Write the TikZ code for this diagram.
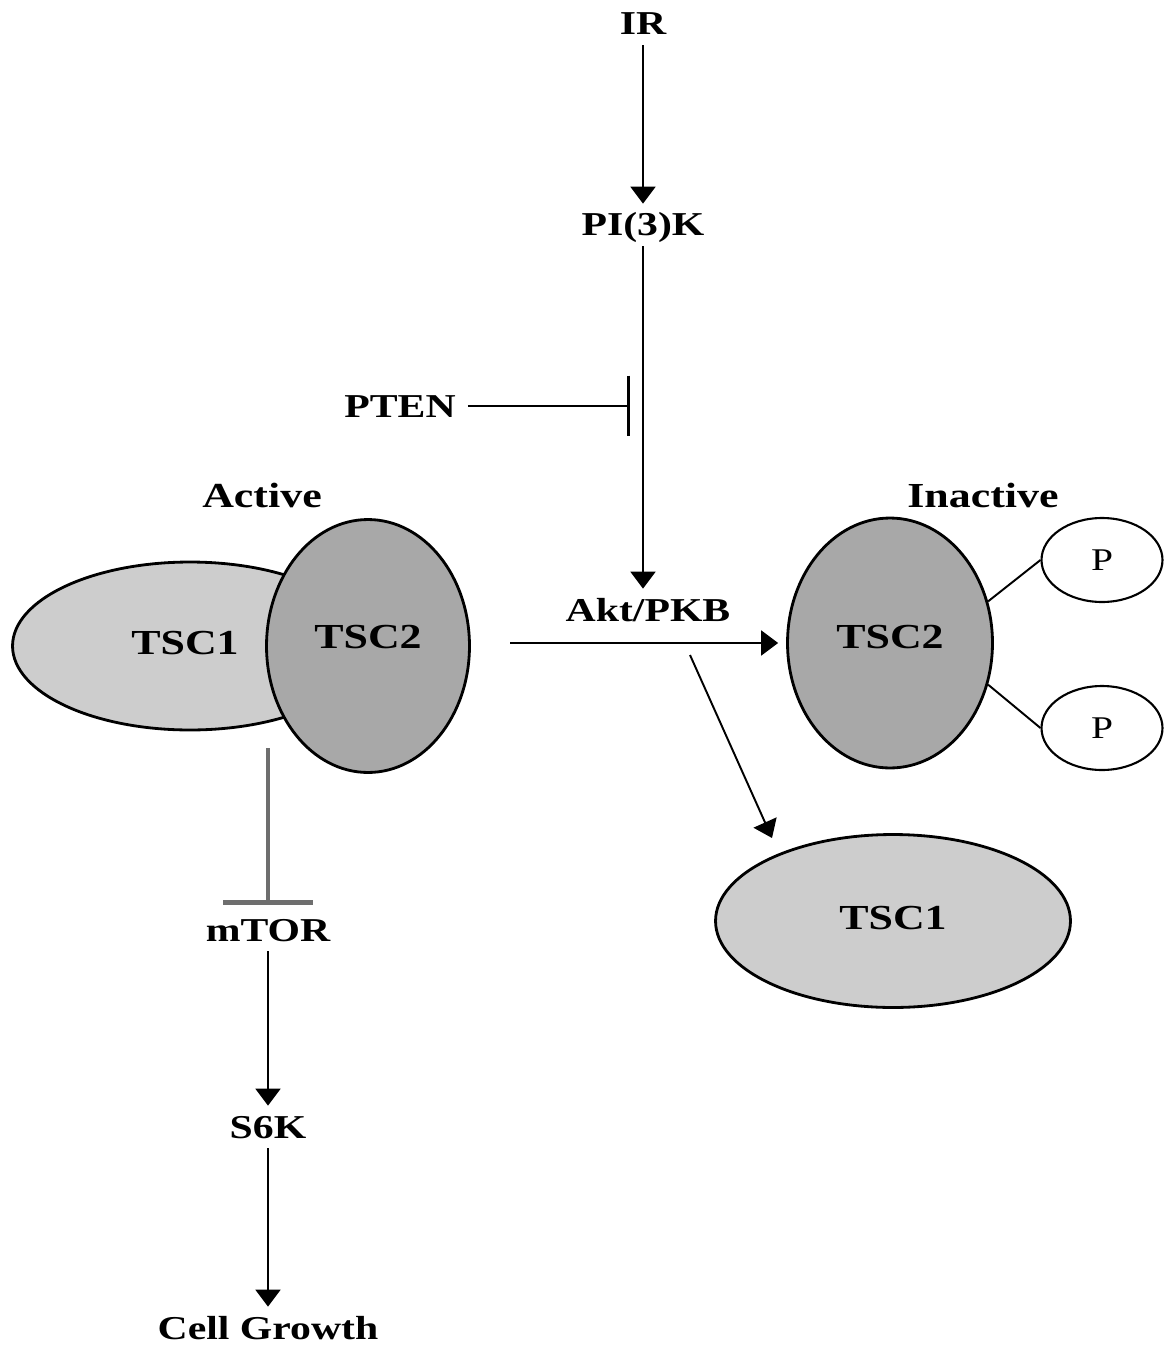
\documentclass[tikz,border=0pt]{standalone}
\usepackage{fontspec}
\setmainfont{Liberation Serif}
\usetikzlibrary{arrows.meta,shapes.geometric}
\newcommand{\wtxt}[1]{\scalebox{1.25}[1]{#1}}
\definecolor{tscone}{RGB}{205,205,205}
\definecolor{tsctwo}{RGB}{168,168,168}
\definecolor{inhgray}{RGB}{110,110,110}
\tikzset{
  lbl/.style={font=\fontsize{19}{22}\selectfont\bfseries, text height=0.44cm, text depth=0pt, inner ysep=0.2cm, inner xsep=0.24cm},
  biglbl/.style={font=\fontsize{20}{23}\selectfont\bfseries},
  plbl/.style={font=\fontsize{18}{21}\selectfont},
  ell/.style={ellipse, draw=black, line width=1.6pt, inner sep=0pt},
  arr/.style={line width=1.1pt, -{Triangle[length=0.34cm,width=0.5cm]}},
  inh/.style={line width=1.3pt, -{Bar[width=1.22cm,line width=1.6pt]}},
  inhg/.style={draw=inhgray, line width=2.4pt, -{Bar[width=1.8cm,line width=2.4pt]}}
}
\begin{document}
\begin{tikzpicture}[x=0.02cm,y=-0.02cm]
\path[use as bounding box] (0,0) rectangle (1166,1345);

% top chain
\node[lbl] (ir) at (643,24) {\wtxt{IR}};
\node[lbl] (pi3k) at (643,225) {\wtxt{PI(3)K}};
\node[lbl] (pten) at (400,406) {\wtxt{PTEN}};
\node[lbl] (akt) at (648,610) {\wtxt{Akt/PKB}};
\coordinate (ptenbar) at (630,406);

\draw[arr] (ir.south) -- (pi3k.north);
\draw[arr] (pi3k.south) -- (pi3k.south |- akt.north);
\draw[inh] (pten.east) -- (ptenbar);

% active complex
\node[biglbl] (active) at (262,495) {\wtxt{Active}};
\node[ell, fill=tscone, minimum width=7.1cm, minimum height=3.36cm] (tsc1a) at (190,646) {};
\node[biglbl] at (185,643) {\wtxt{TSC1}};
\node[ell, fill=tsctwo, minimum width=4.06cm, minimum height=5.06cm] (tsc2a) at (368,646) {};
\node[biglbl] at (368,637) {\wtxt{TSC2}};

% inactive
\node[biglbl] (inactive) at (983,495) {\wtxt{Inactive}};
\node[ell, fill=tsctwo, minimum width=4.1cm, minimum height=5.0cm] (tsc2i) at (890,643) {};
\node[biglbl] at (890,637) {\wtxt{TSC2}};
\node[ell, line width=1.2pt, fill=white, minimum width=2.42cm, minimum height=1.68cm] (p1) at (1102,560) {};
\node[plbl] at (1102,560) {\wtxt{P}};
\node[ell, line width=1.2pt, fill=white, minimum width=2.42cm, minimum height=1.68cm] (p2) at (1102,728) {};
\node[plbl] at (1102,728) {\wtxt{P}};
\draw[line width=1.1pt] (tsc2i.23) -- (p1.west);
\draw[line width=1.1pt] (tsc2i.-23) -- (p2.west);

\node[ell, fill=tscone, minimum width=7.1cm, minimum height=3.46cm] (tsc1b) at (893,921) {};
\node[biglbl] at (893,918) {\wtxt{TSC1}};

% Akt arrows
\coordinate (aktstart) at (510,643);
\draw[arr] (aktstart) -- ([xshift=-0.16cm]tsc2i.west);
\coordinate (diagstart) at (690,655);
\coordinate (diagend) at (772,838);
\draw[arr] (diagstart) -- (diagend);

% bottom chain
\coordinate (inhstart) at (268,748);
\node[lbl] (mtor) at (268,930) {\wtxt{mTOR}};
\node[lbl] (s6k) at (268,1127) {\wtxt{S6K}};
\node[lbl] (growth) at (268,1328) {\wtxt{Cell Growth}};
\draw[inhg] (inhstart) -- ([yshift=0.08cm]mtor.north);
\draw[arr] (mtor.south) -- (s6k.north);
\draw[arr] (s6k.south) -- (growth.north);
\end{tikzpicture}
\end{document}
